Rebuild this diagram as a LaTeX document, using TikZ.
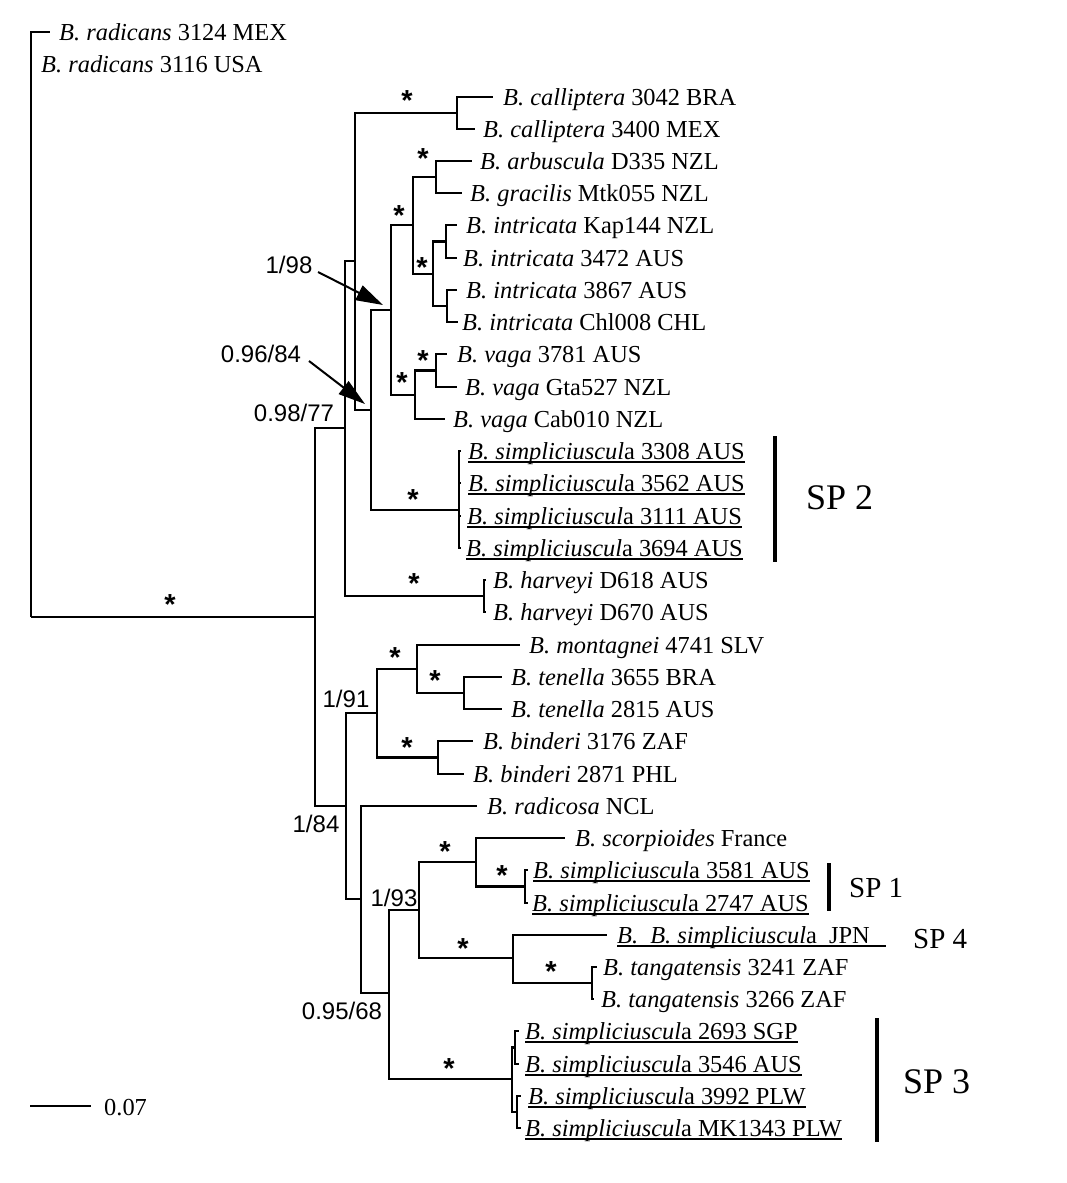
\documentclass[tikz,border=0pt]{standalone}
\usepackage{fontspec}
\setmainfont{Liberation Serif}
\setsansfont{Liberation Sans}
\usetikzlibrary{arrows.meta}
\newcommand\ulbox[2][0pt]{\setbox0\hbox{#2}\rlap{\rule[-3.5pt]{\dimexpr\wd0+#1\relax}{1.2pt}}\box0}
\newcommand\Bsimp{\textit{B. simpliciuscul}a}
\begin{document}
\begin{tikzpicture}[x=1pt,y=-1pt,
  br/.style={line width=2.2pt, line join=miter},
  tl/.style={anchor=base west, inner sep=0pt, font=\fontsize{24.4}{28}\selectfont},
  sup/.style={anchor=base, inner sep=0pt, font=\sffamily\fontsize{24}{28}\selectfont},
  st/.style={anchor=base, inner sep=0pt, font=\sffamily\bfseries\fontsize{29}{30}\selectfont},
  spl/.style={anchor=base west, inner sep=0pt, font=\fontsize{36}{40}\selectfont},
  spm/.style={anchor=base west, inner sep=0pt, font=\fontsize{29}{32}\selectfont},
  arr/.style={line width=2pt, -{Triangle[length=27pt,width=16pt]}},
  bar/.style={line width=4.5pt}]
\fill[white] (0,0) rectangle (1067,1183);
\useasboundingbox (0,0) rectangle (1067,1183);
% internal nodes
\coordinate (root) at (31,617);
\coordinate (n1) at (315,617);
\coordinate (nA) at (345,428);
\coordinate (n355) at (355,261);
\coordinate (call) at (457,113);
\coordinate (n371) at (371,410);
\coordinate (n391) at (391,310);
\coordinate (nAI) at (413,225);
\coordinate (nAr) at (436,177);
\coordinate (nI) at (433,274);
\coordinate (nIa) at (446,241.5);
\coordinate (nIb) at (447,306);
\coordinate (nV) at (415,395);
\coordinate (nVa) at (436,370.5);
\coordinate (sp2) at (459,510);
\coordinate (harv) at (484,596);
\coordinate (nB) at (346,806);
\coordinate (n377) at (377,713);
\coordinate (nMT) at (417,669);
\coordinate (nTe) at (464,693);
\coordinate (nBi) at (438,757.5);
\coordinate (nC) at (361,899);
\coordinate (nD) at (389,993);
\coordinate (n419) at (419,910);
\coordinate (nS) at (476,862);
\coordinate (sp1) at (525,886.5);
\coordinate (nJT) at (513,958);
\coordinate (nT) at (592,983);
\coordinate (sp3) at (512,1079);
\coordinate (s3a) at (515,1047.5);
\coordinate (s3b) at (517,1112);
% tips
\coordinate (p0) at (50,32);
\coordinate (p2) at (493,97);
\coordinate (p3) at (475,129);
\coordinate (p4) at (472,161);
\coordinate (p5) at (462,193);
\coordinate (p6) at (457,225);
\coordinate (p7) at (457,258);
\coordinate (p8) at (457,290);
\coordinate (p9) at (458,322);
\coordinate (p10) at (447,354);
\coordinate (p11) at (457,387);
\coordinate (p12) at (445,419);
\coordinate (p13) at (461,451);
\coordinate (p14) at (461,483);
\coordinate (p15) at (461,516);
\coordinate (p16) at (461,548);
\coordinate (p17) at (486,580);
\coordinate (p18) at (486,612);
\coordinate (p19) at (520,645);
\coordinate (p20) at (502,677);
\coordinate (p21) at (502,709);
\coordinate (p22) at (473,741);
\coordinate (p23) at (464,774);
\coordinate (p24) at (477,806);
\coordinate (p25) at (565,838);
\coordinate (p26) at (528,870);
\coordinate (p27) at (528,903);
\coordinate (p28) at (607,935);
\coordinate (p29) at (597,967);
\coordinate (p30) at (594,999);
\coordinate (p31) at (519,1031);
\coordinate (p32) at (519,1064);
\coordinate (p33) at (521,1096);
\coordinate (p34) at (521,1128);
% branches
\foreach \a/\b in {root/p0,root/n1,n1/nA,n1/nB,nA/n355,nA/harv,n355/call,n355/n371,
  call/p2,call/p3,n371/n391,n371/sp2,n391/nAI,n391/nV,nAI/nAr,nAI/nI,nAr/p4,nAr/p5,
  nI/nIa,nI/nIb,nIa/p6,nIa/p7,nIb/p8,nIb/p9,nV/nVa,nV/p12,nVa/p10,nVa/p11,
  sp2/p13,sp2/p14,sp2/p15,sp2/p16,harv/p17,harv/p18,nB/n377,nB/nC,n377/nMT,n377/nBi,
  nMT/p19,nMT/nTe,nTe/p20,nTe/p21,nBi/p22,nBi/p23,nC/p24,nC/nD,nD/n419,nD/sp3,
  n419/nS,n419/nJT,nS/p25,nS/sp1,sp1/p26,sp1/p27,nJT/p28,nJT/nT,nT/p29,nT/p30,
  sp3/s3a,sp3/s3b,s3a/p31,s3a/p32,s3b/p33,s3b/p34}
  \draw[br] (\a) |- (\b);
% tip labels
\node[tl] (t0) at (59,40) {\textit{B. radicans} 3124 MEX};
\node[tl] (t1) at (41,72) {\textit{B. radicans} 3116 USA};
\node[tl] (t2) at (503,105) {\textit{B. calliptera} 3042 BRA};
\node[tl] (t3) at (483,137) {\textit{B. calliptera} 3400 MEX};
\node[tl] (t4) at (480,169) {\textit{B. arbuscula} D335 NZL};
\node[tl] (t5) at (470,201) {\textit{B. gracilis} Mtk055 NZL};
\node[tl] (t6) at (466,233) {\textit{B. intricata} Kap144 NZL};
\node[tl] (t7) at (463,266) {\textit{B. intricata} 3472 AUS};
\node[tl] (t8) at (466,298) {\textit{B. intricata} 3867 AUS};
\node[tl] (t9) at (462,330) {\textit{B. intricata} Chl008 CHL};
\node[tl] (t10) at (457,362) {\textit{B. vaga} 3781 AUS};
\node[tl] (t11) at (465,395) {\textit{B. vaga} Gta527 NZL};
\node[tl] (t12) at (453,427) {\textit{B. vaga} Cab010 NZL};
\node[tl] (t13) at (468,459) {\ulbox{\Bsimp{} 3308 AUS}};
\node[tl] (t14) at (468,491) {\ulbox{\Bsimp{} 3562 AUS}};
\node[tl] (t15) at (467,524) {\ulbox{\Bsimp{} 3111 AUS}};
\node[tl] (t16) at (466,556) {\ulbox{\Bsimp{} 3694 AUS}};
\node[tl] (t17) at (493,588) {\textit{B. harveyi} D618 AUS};
\node[tl] (t18) at (493,620) {\textit{B. harveyi} D670 AUS};
\node[tl] (t19) at (529,653) {\textit{B. montagnei} 4741 SLV};
\node[tl] (t20) at (511,685) {\textit{B. tenella} 3655 BRA};
\node[tl] (t21) at (511,717) {\textit{B. tenella} 2815 AUS};
\node[tl] (t22) at (483,749) {\textit{B. binderi} 3176 ZAF};
\node[tl] (t23) at (473,782) {\textit{B. binderi} 2871 PHL};
\node[tl] (t24) at (487,814) {\textit{B. radicosa} NCL};
\node[tl] (t25) at (575,846) {\textit{B. scorpioides} France};
\node[tl] (t26) at (533,878) {\ulbox{\Bsimp{} 3581 AUS}};
\node[tl] (t27) at (532,911) {\ulbox{\Bsimp{} 2747 AUS}};
\node[tl] (t28) at (617,943) {\ulbox[16pt]{\textit{B.\hspace{6pt} B. simpliciuscul}a\hspace{6pt} JPN}};
\node[tl] (t29) at (603,975) {\textit{B. tangatensis} 3241 ZAF};
\node[tl] (t30) at (601,1007) {\textit{B. tangatensis} 3266 ZAF};
\node[tl] (t31) at (525,1039) {\ulbox{\Bsimp{} 2693 SGP}};
\node[tl] (t32) at (525,1072) {\ulbox{\Bsimp{} 3546 AUS}};
\node[tl] (t33) at (528,1104) {\ulbox{\Bsimp{} 3992 PLW}};
\node[tl] (t34) at (525,1136) {\ulbox{\Bsimp{} MK1343 PLW}};
% support values
\node[sup] (l198) at (289,273) {1/98};
\node[sup] (l9684) at (261,362) {0.96/84};
\node[sup] (l9877) at (294,421) {0.98/77};
\node[sup] (l191) at (346,707) {1/91};
\node[sup] (l184) at (316,832) {1/84};
\node[sup] (l193) at (394,906) {1/93};
\node[sup] (l9568) at (342,1019) {0.95/68};
% asterisks
\foreach \x/\y [count=\i] in {170/599,407/95,423/153,399/210,422/262,423/355,402/377,
  413/494,414/578,395/652,435/675,407/742,445/846,502/870,463/943,551/966,449/1063}
  \node[st] (ast\i) at (\x,\y+15) {*};
% arrows
\coordinate (a1s) at (318,272);
\coordinate (a1e) at (383,305);
\coordinate (a2s) at (309,361);
\coordinate (a2e) at (365,404);
\draw[arr] (a1s) -- (a1e);
\draw[arr] (a2s) -- (a2e);
% clade bars
\coordinate (b2t) at (775,436); \coordinate (b2b) at (775,562);
\coordinate (b1t) at (829,863); \coordinate (b1b) at (829,911);
\coordinate (b3t) at (877,1018); \coordinate (b3b) at (877,1142);
\draw[bar] (b2t) -- (b2b);
\draw[bar] (b1t) -- (b1b);
\draw[bar] (b3t) -- (b3b);
\node[spl] (sp2l) at (806,509) {SP 2};
\node[spm] (sp1l) at (849,897) {SP 1};
\node[spm] (sp4l) at (913,948) {SP 4};
\node[spl] (sp3l) at (903,1093) {SP 3};
% scale bar
\coordinate (sb1) at (30,1106);
\coordinate (sb2) at (91,1106);
\draw[line width=2pt] (sb1) -- (sb2);
\node[tl] (sbl) at (104,1115) {0.07};
\end{tikzpicture}
\end{document}
